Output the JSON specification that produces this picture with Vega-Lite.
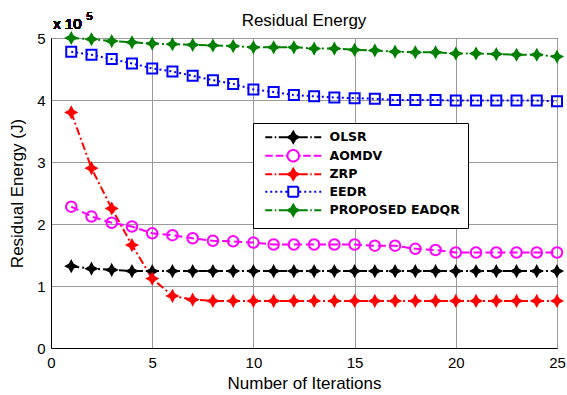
{
  "$schema": "https://vega.github.io/schema/vega-lite/v6.json",
  "width": 506,
  "height": 310,
  "autosize": {"type": "none"},
  "padding": {"left": 51, "top": 38, "right": 10, "bottom": 47},
  "background": "white",
  "config": {
    "font": "Liberation Sans",
    "view": {"stroke": "black", "strokeWidth": 1},
    "axis": {
      "labelFont": "Liberation Sans",
      "titleFont": "Liberation Sans",
      "labelFontSize": 15,
      "titleFontSize": 17,
      "titleFontWeight": "normal",
      "labelColor": "black",
      "titleColor": "black",
      "domainColor": "black",
      "domainWidth": 1,
      "gridColor": "#9a9a9a",
      "gridWidth": 1,
      "ticks": false,
      "tickSize": 0
    },
    "title": {"font": "Liberation Sans", "fontSize": 17, "fontWeight": "normal", "color": "black"}
  },
  "title": {"text": "Residual Energy", "anchor": "middle", "offset": -20, "dy": 12, "baseline": "alphabetic"},
  "data": {
    "values": [
      {"iter": 1, "series": "OLSR", "energy": 1.32},
      {"iter": 2, "series": "OLSR", "energy": 1.28},
      {"iter": 3, "series": "OLSR", "energy": 1.26},
      {"iter": 4, "series": "OLSR", "energy": 1.24},
      {"iter": 5, "series": "OLSR", "energy": 1.24},
      {"iter": 6, "series": "OLSR", "energy": 1.24},
      {"iter": 7, "series": "OLSR", "energy": 1.24},
      {"iter": 8, "series": "OLSR", "energy": 1.24},
      {"iter": 9, "series": "OLSR", "energy": 1.24},
      {"iter": 10, "series": "OLSR", "energy": 1.24},
      {"iter": 11, "series": "OLSR", "energy": 1.24},
      {"iter": 12, "series": "OLSR", "energy": 1.24},
      {"iter": 13, "series": "OLSR", "energy": 1.24},
      {"iter": 14, "series": "OLSR", "energy": 1.24},
      {"iter": 15, "series": "OLSR", "energy": 1.24},
      {"iter": 16, "series": "OLSR", "energy": 1.24},
      {"iter": 17, "series": "OLSR", "energy": 1.24},
      {"iter": 18, "series": "OLSR", "energy": 1.24},
      {"iter": 19, "series": "OLSR", "energy": 1.24},
      {"iter": 20, "series": "OLSR", "energy": 1.24},
      {"iter": 21, "series": "OLSR", "energy": 1.24},
      {"iter": 22, "series": "OLSR", "energy": 1.24},
      {"iter": 23, "series": "OLSR", "energy": 1.24},
      {"iter": 24, "series": "OLSR", "energy": 1.24},
      {"iter": 25, "series": "OLSR", "energy": 1.24},
      {"iter": 1, "series": "AOMDV", "energy": 2.28},
      {"iter": 2, "series": "AOMDV", "energy": 2.12},
      {"iter": 3, "series": "AOMDV", "energy": 2.02},
      {"iter": 4, "series": "AOMDV", "energy": 1.96},
      {"iter": 5, "series": "AOMDV", "energy": 1.85},
      {"iter": 6, "series": "AOMDV", "energy": 1.82},
      {"iter": 7, "series": "AOMDV", "energy": 1.77},
      {"iter": 8, "series": "AOMDV", "energy": 1.73},
      {"iter": 9, "series": "AOMDV", "energy": 1.72},
      {"iter": 10, "series": "AOMDV", "energy": 1.70},
      {"iter": 11, "series": "AOMDV", "energy": 1.67},
      {"iter": 12, "series": "AOMDV", "energy": 1.67},
      {"iter": 13, "series": "AOMDV", "energy": 1.67},
      {"iter": 14, "series": "AOMDV", "energy": 1.67},
      {"iter": 15, "series": "AOMDV", "energy": 1.67},
      {"iter": 16, "series": "AOMDV", "energy": 1.65},
      {"iter": 17, "series": "AOMDV", "energy": 1.65},
      {"iter": 18, "series": "AOMDV", "energy": 1.60},
      {"iter": 19, "series": "AOMDV", "energy": 1.58},
      {"iter": 20, "series": "AOMDV", "energy": 1.54},
      {"iter": 21, "series": "AOMDV", "energy": 1.54},
      {"iter": 22, "series": "AOMDV", "energy": 1.54},
      {"iter": 23, "series": "AOMDV", "energy": 1.54},
      {"iter": 24, "series": "AOMDV", "energy": 1.54},
      {"iter": 25, "series": "AOMDV", "energy": 1.54},
      {"iter": 1, "series": "ZRP", "energy": 3.80},
      {"iter": 2, "series": "ZRP", "energy": 2.90},
      {"iter": 3, "series": "ZRP", "energy": 2.25},
      {"iter": 4, "series": "ZRP", "energy": 1.66},
      {"iter": 5, "series": "ZRP", "energy": 1.12},
      {"iter": 6, "series": "ZRP", "energy": 0.84},
      {"iter": 7, "series": "ZRP", "energy": 0.78},
      {"iter": 8, "series": "ZRP", "energy": 0.76},
      {"iter": 9, "series": "ZRP", "energy": 0.76},
      {"iter": 10, "series": "ZRP", "energy": 0.76},
      {"iter": 11, "series": "ZRP", "energy": 0.76},
      {"iter": 12, "series": "ZRP", "energy": 0.76},
      {"iter": 13, "series": "ZRP", "energy": 0.76},
      {"iter": 14, "series": "ZRP", "energy": 0.76},
      {"iter": 15, "series": "ZRP", "energy": 0.76},
      {"iter": 16, "series": "ZRP", "energy": 0.76},
      {"iter": 17, "series": "ZRP", "energy": 0.76},
      {"iter": 18, "series": "ZRP", "energy": 0.76},
      {"iter": 19, "series": "ZRP", "energy": 0.76},
      {"iter": 20, "series": "ZRP", "energy": 0.76},
      {"iter": 21, "series": "ZRP", "energy": 0.76},
      {"iter": 22, "series": "ZRP", "energy": 0.76},
      {"iter": 23, "series": "ZRP", "energy": 0.76},
      {"iter": 24, "series": "ZRP", "energy": 0.76},
      {"iter": 25, "series": "ZRP", "energy": 0.76},
      {"iter": 1, "series": "EEDR", "energy": 4.78},
      {"iter": 2, "series": "EEDR", "energy": 4.73},
      {"iter": 3, "series": "EEDR", "energy": 4.66},
      {"iter": 4, "series": "EEDR", "energy": 4.59},
      {"iter": 5, "series": "EEDR", "energy": 4.51},
      {"iter": 6, "series": "EEDR", "energy": 4.46},
      {"iter": 7, "series": "EEDR", "energy": 4.39},
      {"iter": 8, "series": "EEDR", "energy": 4.32},
      {"iter": 9, "series": "EEDR", "energy": 4.26},
      {"iter": 10, "series": "EEDR", "energy": 4.17},
      {"iter": 11, "series": "EEDR", "energy": 4.13},
      {"iter": 12, "series": "EEDR", "energy": 4.08},
      {"iter": 13, "series": "EEDR", "energy": 4.06},
      {"iter": 14, "series": "EEDR", "energy": 4.04},
      {"iter": 15, "series": "EEDR", "energy": 4.03},
      {"iter": 16, "series": "EEDR", "energy": 4.02},
      {"iter": 17, "series": "EEDR", "energy": 4.00},
      {"iter": 18, "series": "EEDR", "energy": 4.00},
      {"iter": 19, "series": "EEDR", "energy": 4.00},
      {"iter": 20, "series": "EEDR", "energy": 3.99},
      {"iter": 21, "series": "EEDR", "energy": 3.99},
      {"iter": 22, "series": "EEDR", "energy": 3.99},
      {"iter": 23, "series": "EEDR", "energy": 3.99},
      {"iter": 24, "series": "EEDR", "energy": 3.99},
      {"iter": 25, "series": "EEDR", "energy": 3.98},
      {"iter": 1, "series": "PROPOSED EADQR", "energy": 5.00},
      {"iter": 2, "series": "PROPOSED EADQR", "energy": 4.98},
      {"iter": 3, "series": "PROPOSED EADQR", "energy": 4.95},
      {"iter": 4, "series": "PROPOSED EADQR", "energy": 4.93},
      {"iter": 5, "series": "PROPOSED EADQR", "energy": 4.91},
      {"iter": 6, "series": "PROPOSED EADQR", "energy": 4.90},
      {"iter": 7, "series": "PROPOSED EADQR", "energy": 4.89},
      {"iter": 8, "series": "PROPOSED EADQR", "energy": 4.88},
      {"iter": 9, "series": "PROPOSED EADQR", "energy": 4.87},
      {"iter": 10, "series": "PROPOSED EADQR", "energy": 4.85},
      {"iter": 11, "series": "PROPOSED EADQR", "energy": 4.85},
      {"iter": 12, "series": "PROPOSED EADQR", "energy": 4.85},
      {"iter": 13, "series": "PROPOSED EADQR", "energy": 4.83},
      {"iter": 14, "series": "PROPOSED EADQR", "energy": 4.83},
      {"iter": 15, "series": "PROPOSED EADQR", "energy": 4.81},
      {"iter": 16, "series": "PROPOSED EADQR", "energy": 4.80},
      {"iter": 17, "series": "PROPOSED EADQR", "energy": 4.78},
      {"iter": 18, "series": "PROPOSED EADQR", "energy": 4.77},
      {"iter": 19, "series": "PROPOSED EADQR", "energy": 4.77},
      {"iter": 20, "series": "PROPOSED EADQR", "energy": 4.75},
      {"iter": 21, "series": "PROPOSED EADQR", "energy": 4.75},
      {"iter": 22, "series": "PROPOSED EADQR", "energy": 4.74},
      {"iter": 23, "series": "PROPOSED EADQR", "energy": 4.73},
      {"iter": 24, "series": "PROPOSED EADQR", "energy": 4.73},
      {"iter": 25, "series": "PROPOSED EADQR", "energy": 4.70}
    ]
  },
  "encoding": {
    "x": {
      "field": "iter", "type": "quantitative",
      "scale": {"domain": [0, 25], "nice": false},
      "axis": {"values": [0, 5, 10, 15, 20, 25], "title": "Number of Iterations", "grid": true, "labelPadding": 7, "titlePadding": 5, "labelFlush": false}
    },
    "y": {
      "field": "energy", "type": "quantitative",
      "scale": {"domain": [0, 5], "nice": false},
      "axis": {"values": [0, 1, 2, 3, 4, 5], "title": "Residual Energy (J)", "grid": true, "labelPadding": 6, "titlePadding": 10, "labelFlush": false}
    }
  },
  "layer": [
    {
      "encoding": {
        "color": {
          "field": "series", "type": "nominal",
          "scale": {"domain": ["OLSR", "AOMDV", "ZRP", "EEDR", "PROPOSED EADQR"], "range": ["black", "#ff00ff", "#ff0000", "#0000ff", "#008000"]},
          "legend": {
            "title": null,
            "orient": "none",
            "legendX": 202,
            "legendY": 85,
            "direction": "vertical",
            "strokeColor": "black",
            "fillColor": "white",
            "padding": 8,
            "rowPadding": -1.5,
            "symbolSize": 100,
            "symbolStrokeWidth": 2,
            "symbolOffset": 26,
            "labelOffset": 30,
            "labelFont": "DejaVu Sans",
            "labelFontWeight": "bold",
            "labelFontSize": 12.5,
            "labelColor": "black",
            "labelLimit": 300,
            "encode": {
              "symbols": {
                "update": {
                  "shape": [
                    {"test": "datum.value === 'AOMDV'", "value": "M-5.6,0H-4.1M-3.5,0H-2M-1.5,0H-1.15M1.15,0H1.5M2,0H3.5M4.1,0H5.6M1.15,0A1.15,1.15,0,1,1,-1.15,0A1.15,1.15,0,1,1,1.15,0Z"},
                    {"test": "datum.value === 'EEDR'", "value": "M-5.6,0H-5.2M-4.6,0H-4.2M-3.6,0H-3.2M-2.6,0H-2.2M-1.6,0H-1.2M1.2,0H1.6M2.2,0H2.6M3.2,0H3.6M4.2,0H4.6M5.2,0H5.6M-1,-1H1V1H-1Z"},
                    {"value": "M-5.6,0H-4.2M-3.7,0H-3.4M-2.9,0H-1.1M1.1,0H2.9M3.4,0H3.7M4.2,0H5.6M0,-1.1L0.4,-0.4L1.1,0L0.4,0.4L0,1.1L-0.4,0.4L-1.1,0L-0.4,-0.4Z"}
                  ],
                  "fill": [
                    {"test": "datum.value === 'OLSR'", "value": "black"},
                    {"test": "datum.value === 'ZRP'", "value": "#ff0000"},
                    {"test": "datum.value === 'PROPOSED EADQR'", "value": "#008000"},
                    {"value": "transparent"}
                  ],
                  "strokeDash": {"value": [1, 0]}
                }
              }
            }
          }
        }
      },
      "layer": [
        {
          "transform": [{"filter": {"field": "series", "oneOf": ["OLSR", "ZRP", "PROPOSED EADQR"]}}],
          "mark": {"type": "line", "strokeWidth": 2, "strokeDash": [8, 3, 2, 3], "clip": false}
        },
        {
          "transform": [{"filter": {"field": "series", "equal": "AOMDV"}}],
          "mark": {"type": "line", "strokeWidth": 2, "strokeDash": [8, 4], "clip": false}
        },
        {
          "transform": [{"filter": {"field": "series", "equal": "EEDR"}}],
          "mark": {"type": "line", "strokeWidth": 2, "strokeDash": [2, 3], "clip": false}
        },
        {
          "transform": [{"filter": {"field": "series", "equal": "OLSR"}}],
          "mark": {"type": "point", "filled": false, "fill": "black", "shape": "M0,-1L0.35,-0.35L1,0L0.35,0.35L0,1L-0.35,0.35L-1,0L-0.35,-0.35Z", "size": 100, "strokeWidth": 2, "opacity": 1, "clip": false}
        },
        {
          "transform": [{"filter": {"field": "series", "equal": "ZRP"}}],
          "mark": {"type": "point", "filled": false, "fill": "#ff0000", "shape": "M0,-1L0.35,-0.35L1,0L0.35,0.35L0,1L-0.35,0.35L-1,0L-0.35,-0.35Z", "size": 100, "strokeWidth": 2, "opacity": 1, "clip": false}
        },
        {
          "transform": [{"filter": {"field": "series", "equal": "PROPOSED EADQR"}}],
          "mark": {"type": "point", "filled": false, "fill": "#008000", "shape": "M0,-1L0.35,-0.35L1,0L0.35,0.35L0,1L-0.35,0.35L-1,0L-0.35,-0.35Z", "size": 100, "strokeWidth": 2, "opacity": 1, "clip": false}
        },
        {
          "transform": [{"filter": {"field": "series", "equal": "AOMDV"}}],
          "mark": {"type": "point", "filled": false, "shape": "circle", "size": 110, "strokeWidth": 2, "opacity": 1, "clip": false}
        },
        {
          "transform": [{"filter": {"field": "series", "equal": "EEDR"}}],
          "mark": {"type": "point", "filled": false, "shape": "square", "size": 100, "strokeWidth": 2, "opacity": 1, "clip": false}
        }
      ]
    },
    {
      "mark": {"type": "text", "text": "x 10", "fontSize": 15, "fontWeight": "normal", "align": "right", "baseline": "alphabetic", "color": "black"},
      "encoding": {"x": {"datum": 1.51}, "y": {"datum": 5.14}}
    },
    {
      "mark": {"type": "text", "text": "5", "fontSize": 11, "fontWeight": "normal", "align": "right", "baseline": "alphabetic", "color": "black"},
      "encoding": {"x": {"datum": 2.06}, "y": {"datum": 5.29}}
    }
  ]
}
